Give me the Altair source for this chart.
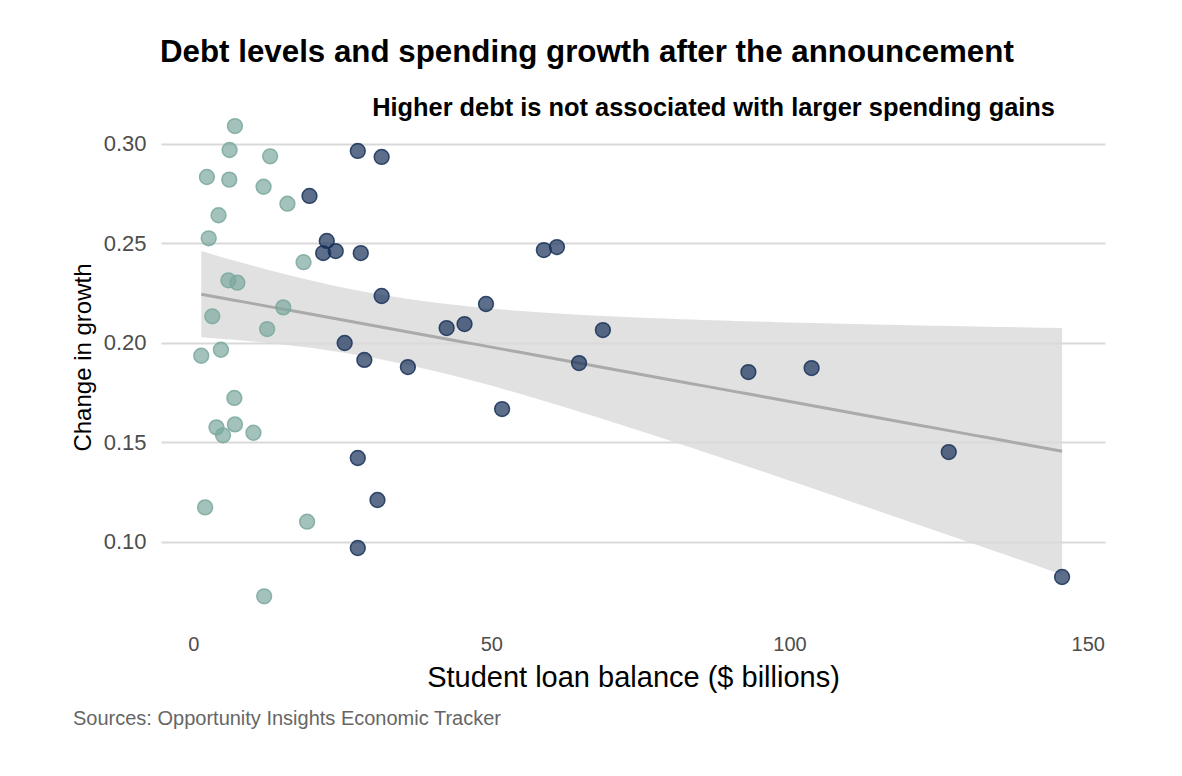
import altair as alt
import numpy as np
import pandas as pd

# ---- data ----
loan_low = [7.0, 6.1, 12.9, 2.3, 6.05, 11.8, 15.8, 4.25, 2.6, 18.5, 5.9, 7.4, 15.1,
            3.2, 12.4, 1.35, 4.65, 6.9, 3.9, 7.0, 5.0, 10.1, 2.0, 19.1, 11.9]
growth_low = [0.3090, 0.2970, 0.2938, 0.2834, 0.2821, 0.2785, 0.2700, 0.2642, 0.2526,
              0.2406, 0.2315, 0.2303, 0.2179, 0.2134, 0.2070, 0.1936, 0.1966, 0.1724,
              0.1576, 0.1591, 0.1536, 0.1549, 0.1174, 0.1102, 0.0727]

loan_high = [27.6, 31.6, 19.5, 22.4, 21.8, 23.9, 28.1, 58.8, 61.0, 31.6, 49.1, 42.5,
             45.5, 25.4, 28.7, 36.0, 64.7, 68.7, 93.1, 103.7, 126.7, 145.7, 51.8,
             27.6, 30.9, 27.6]
growth_high = [0.2965, 0.2935, 0.2739, 0.2513, 0.2452, 0.2462, 0.2452, 0.2467, 0.2482,
               0.2236, 0.2196, 0.2075, 0.2095, 0.2000, 0.1915, 0.1879, 0.1899, 0.2065,
               0.1854, 0.1874, 0.1452, 0.0824, 0.1668, 0.1422, 0.1211, 0.0970]

title_text = "Debt levels and spending growth after the announcement"
subtitle_text = "Higher debt is not associated with larger spending gains"
caption_text = "Sources: Opportunity Insights Economic Tracker"
x_title = "Student loan balance ($ billions)"
y_title = "Change in growth"
x_ticks = [0, 50, 100, 150]
y_ticks = [0.10, 0.15, 0.20, 0.25, 0.30]

FONT = "Liberation Sans"

points = pd.DataFrame({
    "loan": loan_low + loan_high,
    "growth": growth_low + growth_high,
    "group": ["low"] * len(loan_low) + ["high"] * len(loan_high),
})

# ---- linear fit with 95% confidence band (as geom_smooth(method="lm")) ----
xs = np.array(points["loan"], dtype=float)
ys = np.array(points["growth"], dtype=float)
n = len(xs)
b, a = np.polyfit(xs, ys, 1)
resid = ys - (a + b * xs)
s = np.sqrt(np.sum(resid ** 2) / (n - 2))
xbar = xs.mean()
sxx = np.sum((xs - xbar) ** 2)
t_crit = 2.0096
grid = np.linspace(xs.min(), xs.max(), 80)
fit = a + b * grid
se = s * np.sqrt(1.0 / n + (grid - xbar) ** 2 / sxx)
band = pd.DataFrame({"loan": grid, "fit": fit, "lo": fit - t_crit * se, "hi": fit + t_crit * se})

W, H = 944, 518
xscale = alt.Scale(domain=[-5.4, 152.9], nice=False, zero=False)
yscale = alt.Scale(domain=[0.0608, 0.3211], nice=False, zero=False)

xaxis = alt.Axis(values=x_ticks, title=x_title, grid=False, domain=False, ticks=False,
                 labelFont=FONT, labelFontSize=20, labelColor="#4d4d4d", labelPadding=14,
                 titleFont=FONT, titleFontSize=29, titleFontWeight="normal", titleColor="#000000",
                 titleY=66, titleBaseline="alphabetic")
yaxis = alt.Axis(values=y_ticks, format=".2f", title=y_title, grid=True, gridColor="#d9d9d9",
                 gridWidth=2, domain=False, ticks=False,
                 labelFont=FONT, labelFontSize=22, labelColor="#4d4d4d", labelPadding=15,
                 titleFont=FONT, titleFontSize=24, titleFontWeight="normal", titleColor="#000000",
                 titleX=-78, titleY=255, titleAngle=-90, titleAlign="center", titleBaseline="middle")

band_layer = alt.Chart(band).mark_area(color="#d9d9d9", opacity=0.8).encode(
    x=alt.X("loan:Q", scale=xscale, axis=xaxis),
    y=alt.Y("lo:Q", scale=yscale, axis=yaxis),
    y2="hi:Q",
)
line_layer = alt.Chart(band).mark_line(color="#aaaaaa", strokeWidth=3).encode(
    x=alt.X("loan:Q", scale=xscale),
    y=alt.Y("fit:Q", scale=yscale),
)
point_layer = alt.Chart(points).mark_circle(size=220, fillOpacity=0.7, strokeOpacity=0.85,
                                           strokeWidth=1.5).encode(
    x=alt.X("loan:Q", scale=xscale),
    y=alt.Y("growth:Q", scale=yscale),
    color=alt.Color("group:N", scale=alt.Scale(domain=["low", "high"], range=["#7aa89e", "#173058"]),
                    legend=None),
    stroke=alt.Stroke("group:N", scale=alt.Scale(domain=["low", "high"], range=["#7aa89e", "#173058"]),
                      legend=None),
)

text_df = pd.DataFrame({"t": [title_text]})
title_layer = alt.Chart(text_df).mark_text(
    font=FONT, fontSize=31.3, fontWeight="bold", align="left", baseline="alphabetic", color="#000000"
).encode(text="t:N", x=alt.value(-1), y=alt.value(-40))

sub_df = pd.DataFrame({"t": [subtitle_text]})
sub_layer = alt.Chart(sub_df).mark_text(
    font=FONT, fontSize=25.4, fontWeight="bold", align="right", baseline="alphabetic", color="#000000"
).encode(text="t:N", x=alt.value(894), y=alt.value(14))

cap_df = pd.DataFrame({"t": [caption_text]})
cap_layer = alt.Chart(cap_df).mark_text(
    font=FONT, fontSize=20, align="left", baseline="alphabetic", color="#666666"
).encode(text="t:N", x=alt.value(-88), y=alt.value(623))

chart = alt.layer(band_layer, line_layer, point_layer, title_layer, sub_layer, cap_layer).properties(
    width=W, height=H,
    autosize=alt.AutoSizeParams(type="none"),
    padding={"left": 153, "top": 94, "right": 69, "bottom": 148},
).configure(background="white").configure_view(strokeWidth=0, stroke=None)

chart.save("out.html", embed_options={"renderer": "svg", "actions": False})
